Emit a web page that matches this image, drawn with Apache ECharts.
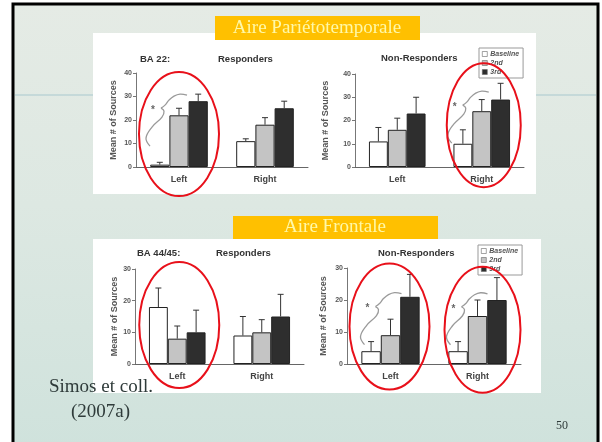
<!DOCTYPE html>
<html>
<head>
<meta charset="utf-8">
<script src="https://cdn.jsdelivr.net/npm/echarts@6/dist/echarts.min.js"></script>
<style>
  html, body { margin: 0; padding: 0; background: #fff; }
  #main { width: 602px; height: 442px; }
</style>
</head>
<body>
<div id="main"></div>
<script>
// categories and groups
const categories = ['Left', 'Right'];
const groupNames = ['Baseline', '2nd', '3rd'];

// rows: Baseline, 2nd, 3rd -- columns: Left, Right
const ba22Resp = [[1, 11], [22, 18], [28, 25]];
const ba22RespErr = [[1, 1], [3, 3], [3, 3]];
const ba22NonResp = [[11, 10], [16, 24], [23, 29]];
const ba22NonRespErr = [[6, 6], [5, 5], [7, 7]];
const ba4445Resp = [[18, 9], [8, 10], [10, 15]];
const ba4445RespErr = [[6, 6], [4, 4], [7, 7]];
const ba4445NonResp = [[4, 4], [9, 15], [21, 20]];
const ba4445NonRespErr = [[3, 3], [5, 5], [7, 7]];

const yMaxTop = 40;
const yMaxBottom = 30;

const FONT = '"Liberation Sans", Arial, sans-serif';
const SERIF = '"Liberation Serif", "Times New Roman", serif';
const barColors = ['#ffffff', '#c4c4c4', '#2e2e2e'];
const catGap = 0.33;

const panels = [
  { data: ba22Resp, err: ba22RespErr, max: yMaxTop, grid: { left: 136, top: 73, width: 172, height: 94 }, nameGap: 18 },
  { data: ba22NonResp, err: ba22NonRespErr, max: yMaxTop, grid: { left: 355, top: 74, width: 169, height: 93 }, nameGap: 25 },
  { data: ba4445Resp, err: ba4445RespErr, max: yMaxBottom, grid: { left: 135, top: 269, width: 169, height: 95 }, nameGap: 15 },
  { data: ba4445NonResp, err: ba4445NonRespErr, max: yMaxBottom, grid: { left: 347, top: 268, width: 174, height: 96 }, nameGap: 19 }
];

// red ellipses: grid, category, y value at centre, radii, optional x shift, brace
const highlights = [
  { g: 0, cat: 0, y: 14, rx: 40, ry: 62, dx: 0, brace: [-18, -26] },
  { g: 1, cat: 1, y: 18, rx: 37, ry: 62, dx: 2, brace: [-21, -20] },
  { g: 2, cat: 0, y: 12.3, rx: 40, ry: 63, dx: 2, brace: null },
  { g: 3, cat: 0, y: 11.7, rx: 40, ry: 63, dx: -1, brace: [-14, -20] },
  { g: 3, cat: 1, y: 10.7, rx: 38, ry: 63, dx: 5, brace: [-21, -23] }
];

function errRenderItem(params, api) {
  const cat = api.value(0), top = api.value(1), mean = api.value(2), k = api.value(3);
  const band = api.size([1, 0])[0];
  const barW = band * (1 - catGap) / 3;
  const cx = api.coord([cat, 0])[0] + (k - 1) * barW;
  const y1 = api.coord([cat, mean])[1];
  const y2 = api.coord([cat, top])[1];
  return {
    type: 'group',
    children: [
      { type: 'line', shape: { x1: cx, y1: y1, x2: cx, y2: y2 }, style: { stroke: '#333', lineWidth: 1 } },
      { type: 'line', shape: { x1: cx - 3, y1: y2, x2: cx + 3, y2: y2 }, style: { stroke: '#333', lineWidth: 1 } }
    ]
  };
}

const grids = [], xAxes = [], yAxes = [], series = [];
panels.forEach(function (p, gi) {
  grids.push(Object.assign({ containLabel: false }, p.grid));
  xAxes.push({
    type: 'category', gridIndex: gi, data: categories,
    axisLine: { lineStyle: { color: '#666', width: 1 } },
    axisTick: { show: false },
    axisLabel: { fontFamily: FONT, fontWeight: 'bold', fontSize: 9, color: '#444', margin: 8 }
  });
  yAxes.push({
    type: 'value', gridIndex: gi, min: 0, max: p.max, interval: 10,
    name: 'Mean # of Sources', nameLocation: 'middle', nameGap: p.nameGap,
    nameTextStyle: { fontFamily: FONT, fontWeight: 'bold', fontSize: 9, color: '#555' },
    axisLine: { show: true, lineStyle: { color: '#777', width: 1 } },
    axisTick: { show: true, length: 3, lineStyle: { color: '#777' } },
    axisLabel: { fontFamily: FONT, fontWeight: 'bold', fontSize: 7, color: '#555', margin: 4 },
    splitLine: { show: false }
  });
  groupNames.forEach(function (name, k) {
    series.push({
      type: 'bar', name: name, xAxisIndex: gi, yAxisIndex: gi,
      data: p.data[k], barGap: 0, barCategoryGap: (catGap * 100) + '%',
      itemStyle: { color: barColors[k], borderColor: '#222', borderWidth: 1 },
      silent: true
    });
  });
  const errData = [];
  for (let k = 0; k < 3; k++) {
    for (let c = 0; c < categories.length; c++) {
      errData.push([c, p.data[k][c] + p.err[k][c], p.data[k][c], k]);
    }
  }
  series.push({
    type: 'custom', name: 'err' + gi, xAxisIndex: gi, yAxisIndex: gi,
    renderItem: errRenderItem, data: errData, encode: { x: 0, y: 1 }, z: 3, silent: true
  });
});

const titleStyle = { fontFamily: FONT, fontWeight: 'bold', fontSize: 9.5, color: '#333' };
const titles = [
  { text: 'BA 22:', left: 140, top: 54 },
  { text: 'Responders', left: 218, top: 54 },
  { text: 'Non-Responders', left: 381, top: 53 },
  { text: 'BA 44/45:', left: 137, top: 248 },
  { text: 'Responders', left: 216, top: 248 },
  { text: 'Non-Responders', left: 378, top: 248 }
].map(function (t) { return Object.assign({ padding: 0, textStyle: titleStyle }, t); });

const legendBase = {
  orient: 'vertical', icon: 'rect',
  data: groupNames.map(function (name, k) {
    return { name: name, itemStyle: { color: barColors[k], borderColor: '#666', borderWidth: 0.6 } };
  }),
  itemWidth: 5, itemHeight: 5, itemGap: 1,
  padding: [2, 4, 2, 3], borderColor: '#999', borderWidth: 1, backgroundColor: '#fff',
  selectedMode: false,
  textStyle: { fontFamily: FONT, fontStyle: 'italic', fontWeight: 'bold', fontSize: 7, color: '#555', padding: [0, 0, 0, -2], lineHeight: 8 }
};

const chart = echarts.init(document.getElementById('main'));

const bgGraphic = [
  { type: 'rect', z: -20, shape: { x: 0, y: 0, width: 602, height: 442 }, style: { fill: '#fff' } },
  {
    type: 'rect', z: -19, shape: { x: 13, y: 4, width: 585, height: 446 },
    style: {
      fill: new echarts.graphic.LinearGradient(0, 0, 0, 1, [
        { offset: 0, color: '#e5ebe5' },
        { offset: 0.45, color: '#dde8e2' },
        { offset: 1, color: '#cfe2dc' }
      ]),
      stroke: '#000', lineWidth: 3
    }
  },
  { type: 'line', z: -18, shape: { x1: 15, y1: 95, x2: 596, y2: 95 }, style: { stroke: 'rgba(190,212,214,0.8)', lineWidth: 2 } },
  { type: 'rect', z: -10, shape: { x: 93, y: 33, width: 443, height: 161 }, style: { fill: '#fff' } },
  { type: 'rect', z: -10, shape: { x: 93, y: 239, width: 448, height: 154 }, style: { fill: '#fff' } },
  { type: 'rect', z: -5, shape: { x: 215, y: 16, width: 205, height: 24 }, style: { fill: '#ffc000' } },
  { type: 'text', z: -4, x: 317, y: 38, style: { text: 'Aire Pariétotemporale', font: '19px ' + SERIF, fill: '#fff8a8', textAlign: 'center', textVerticalAlign: 'bottom' } },
  { type: 'rect', z: -5, shape: { x: 233, y: 216, width: 205, height: 23 }, style: { fill: '#ffc000' } },
  { type: 'text', z: -4, x: 335, y: 237, style: { text: 'Aire Frontale', font: '19px ' + SERIF, fill: '#fff8a8', textAlign: 'center', textVerticalAlign: 'bottom' } },
  { type: 'text', z: 1, x: 49, y: 387, style: { text: 'Simos et coll.', font: '19px ' + SERIF, fill: '#2f3b3a', textVerticalAlign: 'middle' } },
  { type: 'text', z: 1, x: 71, y: 412, style: { text: '(2007a)', font: '19px ' + SERIF, fill: '#2f3b3a', textVerticalAlign: 'middle' } },
  { type: 'text', z: 1, x: 556, y: 426, style: { text: '50', font: '12px ' + SERIF, fill: '#2f3b3a', textVerticalAlign: 'middle' } }
];

chart.setOption({
  animation: false,
  title: titles,
  legend: [
    Object.assign({ left: 479, top: 48 }, legendBase),
    Object.assign({ left: 478, top: 245 }, legendBase)
  ],
  grid: grids,
  xAxis: xAxes,
  yAxis: yAxes,
  series: series,
  graphic: bgGraphic
});

// annotation overlays (ellipses, braces, asterisks) anchored on the axes
const braceLower = [[-11, 38], [-15, 30], [-9, 19], [1, 9], [3, 3], [0, 0]];
const braceUpper = [[0, 0], [4, -3], [8, -8], [13, -12], [19, -14], [26, -13]];
const overlay = [];
highlights.forEach(function (h) {
  const pt = chart.convertToPixel({ gridIndex: h.g }, [h.cat, h.y]);
  const cx = pt[0] + h.dx, cy = pt[1];
  overlay.push({
    type: 'ellipse', z: 20, shape: { cx: cx, cy: cy, rx: h.rx, ry: h.ry },
    style: { fill: 'none', stroke: '#e8101a', lineWidth: 2 }
  });
  if (h.brace) {
    const bx = cx + h.brace[0], by = cy + h.brace[1];
    const mv = function (arr) { return arr.map(function (q) { return [bx + q[0], by + q[1]]; }); };
    overlay.push({ type: 'polyline', z: 19, shape: { points: mv(braceLower), smooth: 0.4 }, style: { fill: 'none', stroke: '#9a9a9a', lineWidth: 1.3 } });
    overlay.push({ type: 'polyline', z: 19, shape: { points: mv(braceUpper), smooth: 0.4 }, style: { fill: 'none', stroke: '#9a9a9a', lineWidth: 1.3 } });
    overlay.push({ type: 'text', z: 19, x: bx - 8, y: by + 2, style: { text: '*', font: 'bold 10px ' + FONT, fill: '#666', textAlign: 'center', textVerticalAlign: 'middle' } });
  }
});

chart.setOption({ graphic: bgGraphic.concat(overlay) });
</script>
</body>
</html>
